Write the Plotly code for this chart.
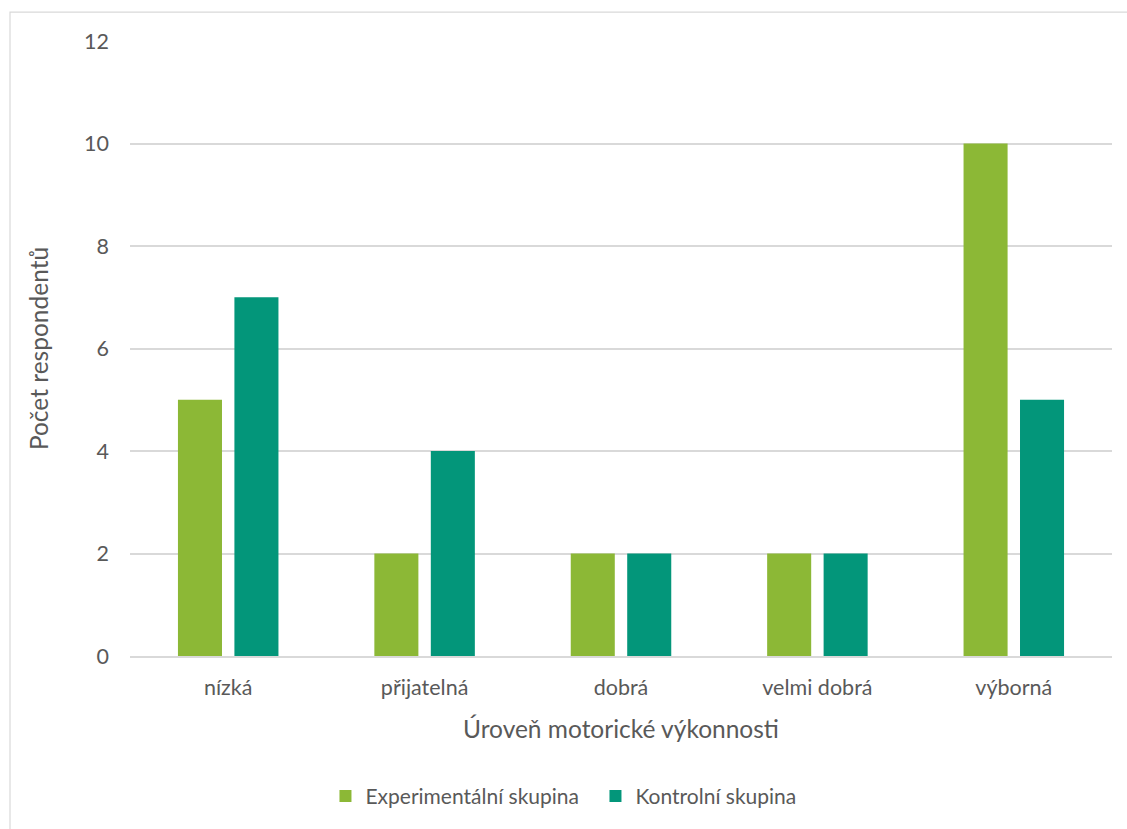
import plotly.graph_objects as go

# Data
categories = ["nízká", "přijatelná", "dobrá", "velmi dobrá", "výborná"]
experimental = [5, 2, 2, 2, 10]
control = [7, 4, 2, 2, 5]
y_ticks = [0, 2, 4, 6, 8, 10, 12]

GREEN = "#8CB836"
TEAL = "#03967A"
TEXT = "#595959"
GRID = "#D9D9D9"
FONT = "Lato, Open Sans, sans-serif"

W, H = 1127, 829
ML, MR, MT, MB = 130, 15, 41, 170
PW, PH = W - ML - MR, H - MT - MB

fig = go.Figure()
fig.add_trace(go.Bar(name="Experimentální skupina", x=categories, y=experimental,
                     marker=dict(color=GREEN, line=dict(width=0))))
fig.add_trace(go.Bar(name="Kontrolní skupina", x=categories, y=control,
                     marker=dict(color=TEAL, line=dict(width=0))))

def px_x(px):
    return (px - ML) / PW

def px_y(py):
    return (H - MB - py) / PH

# outer chart frame
fig.add_shape(type="rect", xref="paper", yref="paper",
              x0=px_x(10), x1=px_x(W + 10), y0=px_y(12), y1=px_y(H + 10),
              line=dict(color=GRID, width=1.2), fillcolor="rgba(0,0,0,0)", layer="below")

fig.update_layout(
    width=W, height=H,
    margin=dict(l=ML, r=MR, t=MT, b=MB),
    paper_bgcolor="white", plot_bgcolor="white",
    barmode="group", bargap=0.425, bargroupgap=0.22,
    font=dict(family=FONT, color=TEXT, size=21),
    showlegend=True,
    legend=dict(orientation="h", x=0.474, xanchor="center", y=px_y(800), yanchor="middle",
                font=dict(size=21, color=TEXT), itemwidth=30, traceorder="normal",
                entrywidth=225, entrywidthmode="pixels"),
    xaxis=dict(showgrid=False, showline=True, linecolor=GRID, linewidth=1.5,
               ticks="", tickfont=dict(size=21.5, color=TEXT), ticklabelstandoff=11,
               title=dict(text="Úroveň motorické výkonnosti", font=dict(size=24.5, color=TEXT),
                          standoff=22)),
    yaxis=dict(range=[0, 12], tickvals=y_ticks, showgrid=True, gridcolor=GRID, gridwidth=1.5,
               zeroline=False, showline=False, ticks="", tickfont=dict(size=21.5, color=TEXT),
               ticklabelstandoff=20,
               title=dict(text="Počet respondentů", font=dict(size=24.5, color=TEXT), standoff=28)),
)

fig.write_html("out.html")
